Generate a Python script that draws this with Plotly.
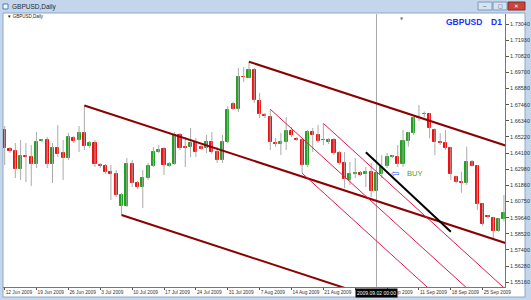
import plotly.graph_objects as go

# ---------------- data (GBPUSD daily, bar 0 = Fri 12 Jun 2009, Sun-Fri bars) ----------------
OPEN = [1.6570, 1.6439, 1.6425, 1.6300, 1.6390, 1.6383, 1.6335, 1.6494, 1.6501, 1.6335,
        1.6446, 1.6411, 1.6376, 1.6515, 1.6501, 1.6549, 1.6460, 1.6480, 1.6331, 1.6321,
        1.6280, 1.6266, 1.6044, 1.6044, 1.6335, 1.6203, 1.6176, 1.6238, 1.6321, 1.6421,
        1.6439, 1.6321, 1.6335, 1.6536, 1.6452, 1.6456, 1.6480, 1.6453, 1.6444, 1.6484,
        1.6420, 1.6363, 1.6487, 1.6747, 1.6716, 1.6937, 1.6932, 1.6986, 1.6771, 1.6671,
        1.6660, 1.6482, 1.6473, 1.6487, 1.6563, 1.6508, 1.6501, 1.6328, 1.6556, 1.6536,
        1.6502, 1.6485, 1.6501, 1.6411, 1.6342, 1.6224, 1.6269, 1.6273, 1.6264, 1.6280,
        1.6148, 1.6264, 1.6323, 1.6383, 1.6385, 1.6333, 1.6496, 1.6547, 1.6650, 1.6684,
        1.6681, 1.6570, 1.6485, 1.6478, 1.6444, 1.6247, 1.6212, 1.6205, 1.6351, 1.6321,
        1.6058, 1.5975, 1.5959, 1.5873, 1.5952]
HIGH = [1.6598, 1.6453, 1.6480, 1.6501, 1.6480, 1.6466, 1.6556, 1.6508, 1.6522, 1.6480,
        1.6605, 1.6501, 1.6549, 1.6529, 1.6598, 1.6740, 1.6494, 1.6501, 1.6342, 1.6335,
        1.6328, 1.6293, 1.6134, 1.6376, 1.6363, 1.6217, 1.6293, 1.6342, 1.6453, 1.6466,
        1.6453, 1.6349, 1.6556, 1.6549, 1.6522, 1.6584, 1.6515, 1.6466, 1.6536, 1.6556,
        1.6453, 1.6536, 1.6736, 1.6764, 1.6999, 1.7006, 1.7044, 1.7000, 1.6826, 1.6688,
        1.6714, 1.6515, 1.6549, 1.6660, 1.6591, 1.6522, 1.6515, 1.6570, 1.6584, 1.6605,
        1.6616, 1.6515, 1.6515, 1.6425, 1.6418, 1.6349, 1.6376, 1.6286, 1.6314, 1.6342,
        1.6314, 1.6397, 1.6411, 1.6397, 1.6466, 1.6570, 1.6558, 1.6662, 1.6743, 1.6698,
        1.6686, 1.6582, 1.6547, 1.6570, 1.6455, 1.6252, 1.6282, 1.6455, 1.6363, 1.6328,
        1.6063, 1.5982, 1.5970, 1.5959, 1.6120]
LOW = [1.6328, 1.6411, 1.6238, 1.6224, 1.6210, 1.6183, 1.6307, 1.6487, 1.6307, 1.6203,
       1.6383, 1.6224, 1.6363, 1.6480, 1.6418, 1.6432, 1.6446, 1.6314, 1.6307, 1.6266,
       1.6086, 1.6107, 1.5982, 1.6037, 1.6176, 1.6162, 1.6030, 1.6224, 1.6314, 1.6411,
       1.6259, 1.6314, 1.6328, 1.6432, 1.6314, 1.6383, 1.6383, 1.6432, 1.6411, 1.6404,
       1.6342, 1.6342, 1.6480, 1.6709, 1.6695, 1.6903, 1.6927, 1.6757, 1.6653, 1.6653,
       1.6432, 1.6453, 1.6397, 1.6432, 1.6522, 1.6494, 1.6273, 1.6314, 1.6418, 1.6480,
       1.6466, 1.6473, 1.6397, 1.6328, 1.6169, 1.6190, 1.6238, 1.6252, 1.6176, 1.6107,
       1.6134, 1.6238, 1.6307, 1.6376, 1.6314, 1.6314, 1.6455, 1.6536, 1.6633, 1.6660,
       1.6513, 1.6397, 1.6466, 1.6432, 1.6224, 1.6201, 1.6136, 1.6190, 1.6316, 1.6017,
       1.5906, 1.5959, 1.5809, 1.5866, 1.5936]
CLOSE = [1.6446, 1.6425, 1.6300, 1.6390, 1.6380, 1.6335, 1.6487, 1.6501, 1.6335, 1.6446,
         1.6404, 1.6376, 1.6522, 1.6494, 1.6549, 1.6460, 1.6480, 1.6335, 1.6321, 1.6280,
         1.6269, 1.6120, 1.6120, 1.6335, 1.6203, 1.6176, 1.6238, 1.6321, 1.6418, 1.6435,
         1.6328, 1.6335, 1.6539, 1.6449, 1.6449, 1.6477, 1.6418, 1.6442, 1.6484, 1.6421,
         1.6363, 1.6487, 1.6709, 1.6716, 1.6937, 1.6934, 1.6986, 1.6778, 1.6681, 1.6664,
         1.6487, 1.6473, 1.6489, 1.6563, 1.6536, 1.6501, 1.6328, 1.6556, 1.6536, 1.6494,
         1.6499, 1.6501, 1.6411, 1.6342, 1.6231, 1.6266, 1.6273, 1.6259, 1.6280, 1.6148,
         1.6276, 1.6316, 1.6385, 1.6387, 1.6333, 1.6494, 1.6547, 1.6651, 1.6653, 1.6678,
         1.6582, 1.6485, 1.6478, 1.6444, 1.6266, 1.6212, 1.6205, 1.6351, 1.6323, 1.6058,
         1.5920, 1.5966, 1.5873, 1.5952, 1.5998]
BAR_INDEX = list(range(len(OPEN)))

WEEK_TICK_BARS = [0, 6, 12, 18, 24, 30, 36, 42, 48, 54, 60, 66, 72, 78, 84, 90]
WEEK_TICK_LABELS = ["12 Jun 2009", "19 Jun 2009", "26 Jun 2009", "3 Jul 2009", "10 Jul 2009",
                    "17 Jul 2009", "24 Jul 2009", "31 Jul 2009", "7 Aug 2009", "14 Aug 2009",
                    "21 Aug 2009", "28 Aug 2009", "4 Sep 2009", "11 Sep 2009", "18 Sep 2009",
                    "25 Sep 2009"]
PRICE_TICK_LABELS = ["1.73040", "1.71930", "1.70820", "1.69700", "1.68580", "1.67460",
                     "1.66340", "1.65220", "1.64100", "1.62980", "1.61860", "1.60750",
                     "1.59640", "1.58520", "1.57400", "1.56280", "1.55160"]
PRICE_TICKS = [float(s) for s in PRICE_TICK_LABELS]

# trend lines drawn on the chart: (bar index, price)
MAROON_A_X, MAROON_A_Y = [15, 95], [1.6740, 1.5779]
MAROON_B_X, MAROON_B_Y = [22, 70], [1.5982, 1.5405]
MAROON_C_X, MAROON_C_Y = [46, 95], [1.7043, 1.6454]
PINK_A_X, PINK_A_Y = [56, 95], [1.6271, 1.4966]
PINK_B_X, PINK_B_Y = [50, 95], [1.6714, 1.5209]
PINK_C_X, PINK_C_Y = [60, 95], [1.6616, 1.5445]
BLACK_X, BLACK_Y = [68, 84], [1.6416, 1.5866]

VLINE_BAR = 70
VLINE_LABEL = "2009.09.02 00:00"
BUY_ARROW_BAR, BUY_TEXT_BAR, BUY_PRICE = 73.5, 75.4, 1.6266
SHIFT_MARK_BAR = 74.8

X_RANGE = [-0.32, 94.2]
Y_RANGE = [1.54835, 1.73732]

UP_COLOR = "#22a022"
DOWN_COLOR = "#ee1111"
WICK_COLOR = "#aaaaaa"
FRAME = "#c3d6ec"
FONT = "Liberation Sans"

# ---------------- figure ----------------
fig = go.Figure()

wx, wy = [], []
for i, h, l in zip(BAR_INDEX, HIGH, LOW):
    wx += [i, i, None]
    wy += [l, h, None]
fig.add_trace(go.Scatter(x=wx, y=wy, mode="lines", line=dict(color=WICK_COLOR, width=1),
                         hoverinfo="skip", showlegend=False))

body_base = [min(o, c) for o, c in zip(OPEN, CLOSE)]
body_len = [abs(c - o) for o, c in zip(OPEN, CLOSE)]
body_col = [UP_COLOR if c >= o else DOWN_COLOR for o, c in zip(OPEN, CLOSE)]
fig.add_trace(go.Bar(x=BAR_INDEX, y=body_len, base=body_base, width=0.58,
                     marker=dict(color=body_col, line=dict(color=body_col, width=1)),
                     showlegend=False, hoverinfo="skip"))

for lx, ly, col, w in [(MAROON_A_X, MAROON_A_Y, "#8b0000", 2),
                       (MAROON_B_X, MAROON_B_Y, "#8b0000", 2),
                       (MAROON_C_X, MAROON_C_Y, "#8b0000", 2),
                       (PINK_A_X, PINK_A_Y, "#e8194d", 1),
                       (PINK_B_X, PINK_B_Y, "#e8194d", 1),
                       (PINK_C_X, PINK_C_Y, "#e8194d", 1),
                       (BLACK_X, BLACK_Y, "#000000", 2)]:
    fig.add_trace(go.Scatter(x=lx, y=ly, mode="lines", line=dict(color=col, width=w),
                             hoverinfo="skip", showlegend=False))

W, H = 531, 300
ML, MR, MT, MB = 3, 26, 14, 13
PW, PH = W - ML - MR, H - MT - MB


def PX(x):
    return (x - ML) / PW


def PY(y):
    return (H - MB - y) / PH


shapes = [
    dict(type="rect", xref="paper", yref="paper", x0=PX(3), x1=PX(525), y0=PY(297), y1=PY(13),
         fillcolor="white", line=dict(color="#8fa8c6", width=1), layer="below"),
    dict(type="line", xref="x", yref="paper", x0=VLINE_BAR, x1=VLINE_BAR, y0=0, y1=1,
         line=dict(color="#a8a8a8", width=1), layer="below"),
    # title bar icon and window buttons
    dict(type="rect", xref="paper", yref="paper", x0=PX(3), x1=PX(8), y0=PY(9), y1=PY(4),
         fillcolor="white", line=dict(color="#4a78b8", width=1)),
    dict(type="rect", xref="paper", yref="paper", x0=PX(478), x1=PX(492), y0=PY(10), y1=PY(2),
         fillcolor="#d6e3f3", line=dict(color="#7f98b8", width=1)),
    dict(type="rect", xref="paper", yref="paper", x0=PX(493), x1=PX(507), y0=PY(10), y1=PY(2),
         fillcolor="#d6e3f3", line=dict(color="#7f98b8", width=1)),
    dict(type="rect", xref="paper", yref="paper", x0=PX(508), x1=PX(525), y0=PY(10), y1=PY(2),
         fillcolor="#c9453b", line=dict(color="#8a2a22", width=1)),
]

annotations = [
    dict(xref="paper", yref="paper", x=PX(10), y=PY(6.5), text="GBPUSD,Daily", showarrow=False,
         xanchor="left", yanchor="middle", font=dict(family=FONT, size=6.5, color="#2a2a2a")),
    dict(xref="paper", yref="paper", x=PX(485), y=PY(6), text="–", showarrow=False,
         xanchor="center", yanchor="middle", font=dict(family=FONT, size=6, color="#333")),
    dict(xref="paper", yref="paper", x=PX(500), y=PY(6), text="□", showarrow=False,
         xanchor="center", yanchor="middle", font=dict(family="DejaVu Sans", size=5, color="#333")),
    dict(xref="paper", yref="paper", x=PX(516.5), y=PY(6), text="✕", showarrow=False,
         xanchor="center", yanchor="middle", font=dict(family="DejaVu Sans", size=5.5, color="white")),
    dict(xref="paper", yref="paper", x=PX(5), y=PY(17), text="▼ GBPUSD,Daily", showarrow=False,
         xanchor="left", yanchor="middle", font=dict(family=FONT, size=4.5, color="#222")),
    dict(xref="paper", yref="paper", x=PX(484), y=PY(22), text="<b>GBPUSD</b>", showarrow=False,
         xanchor="right", yanchor="middle", font=dict(family=FONT, size=8.5, color="#1f2fff")),
    dict(xref="paper", yref="paper", x=PX(489), y=PY(22), text="<b>D1</b>", showarrow=False,
         xanchor="left", yanchor="middle", font=dict(family=FONT, size=8.5, color="#1f2fff")),
    dict(xref="x", yref="paper", x=SHIFT_MARK_BAR, y=1, text="▼", showarrow=False,
         xanchor="center", yanchor="top", font=dict(family="DejaVu Sans", size=4, color="#777")),
    dict(xref="x", yref="y", x=BUY_ARROW_BAR, y=BUY_PRICE, text="⇦", showarrow=False,
         xanchor="center", yanchor="middle", font=dict(family="DejaVu Sans", size=10, color="#2a55e6")),
    dict(xref="x", yref="y", x=BUY_TEXT_BAR, y=BUY_PRICE, text="BUY", showarrow=False,
         xanchor="left", yanchor="middle", font=dict(family=FONT, size=7.5, color="#3aa53a")),
    dict(xref="x", yref="paper", x=VLINE_BAR, y=0, yshift=-1, text=VLINE_LABEL, showarrow=False,
         xanchor="center", yanchor="top", bgcolor="black", borderpad=1,
         font=dict(family=FONT, size=5, color="white")),
]

fig.update_layout(
    width=W, height=H,
    margin=dict(l=ML, r=MR, t=MT, b=MB, autoexpand=False),
    paper_bgcolor=FRAME, plot_bgcolor="white",
    showlegend=False, bargap=0,
    shapes=shapes, annotations=annotations,
    xaxis=dict(range=X_RANGE, tickmode="array", tickvals=WEEK_TICK_BARS, ticktext=WEEK_TICK_LABELS,
               ticks="outside", ticklen=2, tickcolor="#555", ticklabelposition="outside right",
               tickangle=0, ticklabelstandoff=0,
               tickfont=dict(family=FONT, size=4.8, color="#333"), showline=True,
               linecolor="#777", linewidth=1, showgrid=False, zeroline=False, fixedrange=True),
    yaxis=dict(range=Y_RANGE, side="right", tickmode="array", tickvals=PRICE_TICKS,
               ticktext=PRICE_TICK_LABELS, ticks="outside", ticklen=3, tickcolor="#555",
               tickfont=dict(family=FONT, size=5.5, color="#333"), showline=True,
               linecolor="#777", linewidth=1, showgrid=False, zeroline=False, fixedrange=True),
)

fig.write_html("out.html")
